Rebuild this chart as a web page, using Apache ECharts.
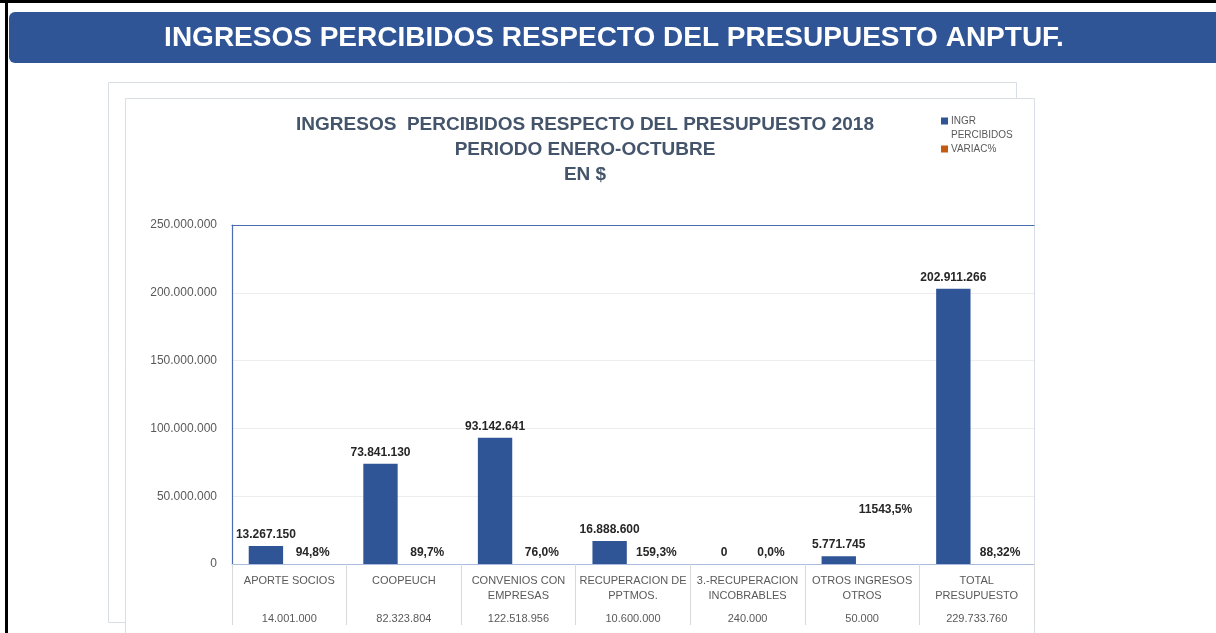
<!DOCTYPE html>
<html>
<head>
<meta charset="utf-8">
<script src="https://cdn.jsdelivr.net/npm/echarts@6/dist/echarts.min.js"></script>
<style>
html,body{margin:0;padding:0;background:#fff;}
#chart{width:1216px;height:633px;}
</style>
</head>
<body>
<div id="chart"></div>
<script>
const pageTitle = 'INGRESOS PERCIBIDOS RESPECTO DEL PRESUPUESTO ANPTUF.';
const chartTitle = 'INGRESOS  PERCIBIDOS RESPECTO DEL PRESUPUESTO 2018\nPERIODO ENERO-OCTUBRE\nEN $';
const categories = ['APORTE SOCIOS', 'COOPEUCH', 'CONVENIOS CON\nEMPRESAS', 'RECUPERACION DE\nPPTMOS.', '3.-RECUPERACION\nINCOBRABLES', 'OTROS INGRESOS\nOTROS', 'TOTAL\nPRESUPUESTO'];
const presupuesto = [14001000, 82323804, 122518956, 10600000, 240000, 50000, 229733760];
const ingresos = [13267150, 73841130, 93142641, 16888600, 0, 5771745, 202911266];
const variac = [94.8, 89.7, 76.0, 159.3, 0.0, 11543.5, 88.32];
const seriesNames = ['INGR\nPERCIBIDOS', 'VARIAC%'];
const yTicks = [0, 50000000, 100000000, 150000000, 200000000, 250000000];

function fmt(n) {
  return String(Math.round(n)).replace(/\B(?=(\d{3})+(?!\d))/g, '.');
}
function fmtPct(v) {
  const two = Math.abs(Math.round(v * 10) - v * 10) > 1e-6;
  return v.toFixed(two ? 2 : 1).replace('.', ',') + '%';
}

const FONT = 'Liberation Sans';
const chart = echarts.init(document.getElementById('chart'), null, {renderer: 'canvas'});

const option = {
  backgroundColor: '#ffffff',
  animation: false,
  textStyle: {fontFamily: FONT},
  graphic: [
    {type: 'rect', z: 0, shape: {x: 0, y: 0, width: 1216, height: 3}, style: {fill: '#000'}},
    {type: 'rect', z: 0, shape: {x: 5, y: 0, width: 3, height: 633}, style: {fill: '#000'}},
    {type: 'rect', z: 0, shape: {x: 9, y: 12, width: 1215, height: 51, r: 6}, style: {fill: '#2F5597'}},
    {type: 'text', z: 1, x: 614, y: 38, style: {text: pageTitle, fill: '#fff', font: 'bold 28px "Liberation Sans"', textAlign: 'center', textVerticalAlign: 'middle'}},
    {type: 'rect', z: 0, shape: {x: 108.5, y: 82.5, width: 908, height: 540}, style: {fill: '#fff', stroke: '#D9DEE6', lineWidth: 1}},
    {type: 'rect', z: 0, shape: {x: 125.5, y: 98.5, width: 909, height: 560}, style: {fill: '#fff', stroke: '#D9DEE6', lineWidth: 1}}
  ],
  title: {
    text: chartTitle,
    left: 580,
    top: 107,
    textAlign: 'center',
    textStyle: {fontFamily: FONT, fontSize: 19, fontWeight: 'bold', color: '#44546A', lineHeight: 25}
  },
  legend: {
    orient: 'vertical',
    left: 936,
    top: 95,
    itemWidth: 7,
    itemHeight: 7,
    itemGap: 0,
    icon: 'rect',
    data: seriesNames,
    formatter: name => (name.indexOf('\n') >= 0 ? '\n' + name : name),
    textStyle: {fontFamily: FONT, fontSize: 10, color: '#595959', lineHeight: 14, padding: [0, 0, 0, -2]}
  },
  grid: {left: 232, right: 182, top: 225, bottom: 69, containLabel: false},
  xAxis: [
    {
      type: 'category',
      data: categories,
      position: 'bottom',
      axisLine: {show: true, lineStyle: {color: '#A9BCDD', width: 1}},
      axisTick: {show: true, length: 61, lineStyle: {color: '#D9D9D9'}},
      axisLabel: {interval: 0, color: '#595959', fontSize: 11, lineHeight: 15, margin: 9, fontFamily: FONT}
    },
    {
      type: 'category',
      data: presupuesto.map(fmt),
      position: 'bottom',
      offset: 40,
      axisLine: {show: false},
      axisTick: {show: false},
      axisLabel: {interval: 0, color: '#595959', fontSize: 11, margin: 9, fontFamily: FONT}
    },
    {
      type: 'category',
      data: categories,
      position: 'top',
      axisLine: {show: true, lineStyle: {color: '#4A6DB0', width: 1.2}},
      axisTick: {show: false},
      axisLabel: {show: false}
    }
  ],
  yAxis: {
    type: 'value',
    min: yTicks[0],
    max: yTicks[yTicks.length - 1],
    interval: yTicks[1] - yTicks[0],
    axisLine: {show: true, lineStyle: {color: '#4A6DB0', width: 1.2}},
    axisTick: {show: false},
    splitLine: {show: true, lineStyle: {color: '#EDEDED'}},
    axisLabel: {color: '#595959', fontSize: 12, margin: 15, fontFamily: FONT, formatter: v => fmt(v)}
  },
  series: [
    {
      name: seriesNames[0],
      type: 'bar',
      xAxisIndex: 0,
      data: ingresos,
      barWidth: '30%',
      barGap: '36%',
      itemStyle: {color: '#2F5597'},
      label: {show: true, position: 'top', distance: 5, color: '#262626', fontWeight: 'bold', fontSize: 12, fontFamily: FONT, formatter: p => fmt(p.value)}
    },
    {
      name: seriesNames[1],
      type: 'bar',
      xAxisIndex: 0,
      data: variac.map(v => v > 1000 ? {value: v, label: {offset: [0, -43]}} : v),
      barWidth: '30%',
      barGap: '36%',
      itemStyle: {color: '#C55A11'},
      label: {show: true, position: 'top', distance: 5, color: '#262626', fontWeight: 'bold', fontSize: 12, fontFamily: FONT, formatter: p => fmtPct(p.value)}
    }
  ]
};
chart.setOption(option);
</script>
</body>
</html>
